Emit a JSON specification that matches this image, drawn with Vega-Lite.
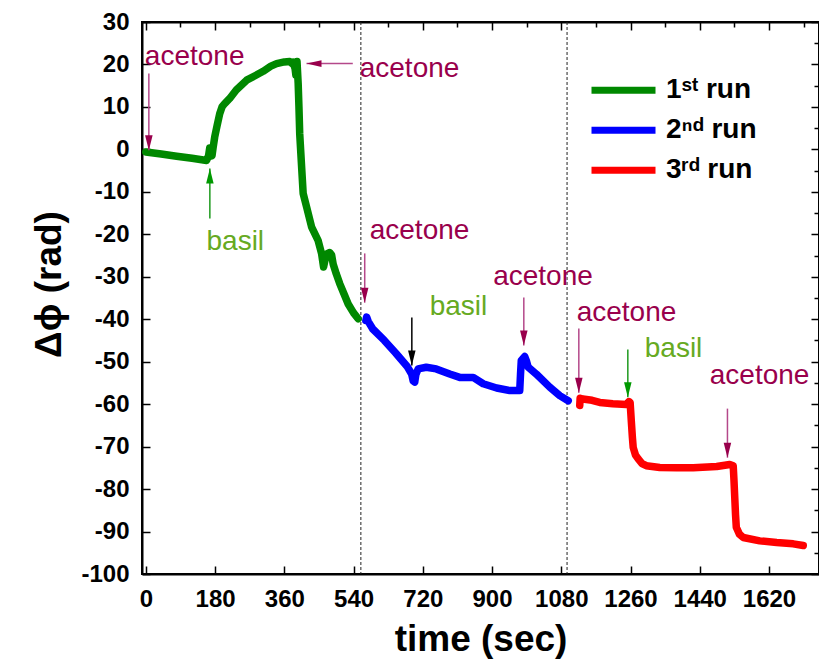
{
  "$schema": "https://vega.github.io/schema/vega-lite/v6.json",
  "width": 677,
  "height": 552,
  "autosize": {"type": "none"},
  "padding": {"left": 142, "top": 22, "right": 0, "bottom": 92},
  "background": "white",
  "config": {"view": {"stroke": "black", "strokeWidth": 2}},
  "datasets": {
    "curve": [
      {"run": "1st run", "t": 0, "v": -0.6},
      {"run": "1st run", "t": 40, "v": -1.1},
      {"run": "1st run", "t": 80, "v": -1.6},
      {"run": "1st run", "t": 120, "v": -2.1},
      {"run": "1st run", "t": 158, "v": -2.6},
      {"run": "1st run", "t": 163, "v": -1.5},
      {"run": "1st run", "t": 166, "v": 0.3},
      {"run": "1st run", "t": 169, "v": -0.8},
      {"run": "1st run", "t": 172, "v": -1.5},
      {"run": "1st run", "t": 175, "v": 0.5},
      {"run": "1st run", "t": 179, "v": 2.9},
      {"run": "1st run", "t": 185, "v": 5.5},
      {"run": "1st run", "t": 192, "v": 8.4},
      {"run": "1st run", "t": 198, "v": 10.0},
      {"run": "1st run", "t": 205, "v": 10.8},
      {"run": "1st run", "t": 218, "v": 12.0},
      {"run": "1st run", "t": 235, "v": 14.0},
      {"run": "1st run", "t": 262, "v": 16.3},
      {"run": "1st run", "t": 285, "v": 17.4},
      {"run": "1st run", "t": 305, "v": 18.4},
      {"run": "1st run", "t": 325, "v": 19.6},
      {"run": "1st run", "t": 340, "v": 20.2},
      {"run": "1st run", "t": 360, "v": 20.6},
      {"run": "1st run", "t": 374, "v": 20.7},
      {"run": "1st run", "t": 380, "v": 20.2},
      {"run": "1st run", "t": 383, "v": 20.5},
      {"run": "1st run", "t": 388, "v": 19.0},
      {"run": "1st run", "t": 390, "v": 17.5},
      {"run": "1st run", "t": 393, "v": 20.7},
      {"run": "1st run", "t": 396, "v": 15.5},
      {"run": "1st run", "t": 398, "v": 10.0},
      {"run": "1st run", "t": 400, "v": 3.7},
      {"run": "1st run", "t": 405, "v": -4.2},
      {"run": "1st run", "t": 409, "v": -10.4},
      {"run": "1st run", "t": 418, "v": -13.6},
      {"run": "1st run", "t": 431, "v": -18.3},
      {"run": "1st run", "t": 448, "v": -21.5},
      {"run": "1st run", "t": 457, "v": -24.6},
      {"run": "1st run", "t": 462, "v": -27.7},
      {"run": "1st run", "t": 466, "v": -26.0},
      {"run": "1st run", "t": 470, "v": -24.6},
      {"run": "1st run", "t": 478, "v": -24.3},
      {"run": "1st run", "t": 483, "v": -24.9},
      {"run": "1st run", "t": 487, "v": -27.0},
      {"run": "1st run", "t": 495, "v": -29.3},
      {"run": "1st run", "t": 504, "v": -31.6},
      {"run": "1st run", "t": 515, "v": -34.0},
      {"run": "1st run", "t": 526, "v": -36.4},
      {"run": "1st run", "t": 540, "v": -38.5},
      {"run": "1st run", "t": 552, "v": -39.9},
      {"run": "2nd run", "t": 572, "v": -40.3},
      {"run": "2nd run", "t": 574, "v": -39.5},
      {"run": "2nd run", "t": 578, "v": -40.5},
      {"run": "2nd run", "t": 590, "v": -42.3},
      {"run": "2nd run", "t": 620, "v": -45.0},
      {"run": "2nd run", "t": 650, "v": -48.0},
      {"run": "2nd run", "t": 680, "v": -51.2},
      {"run": "2nd run", "t": 691, "v": -52.9},
      {"run": "2nd run", "t": 695, "v": -54.5},
      {"run": "2nd run", "t": 699, "v": -54.8},
      {"run": "2nd run", "t": 702, "v": -53.0},
      {"run": "2nd run", "t": 708, "v": -51.7},
      {"run": "2nd run", "t": 729, "v": -51.3},
      {"run": "2nd run", "t": 755, "v": -51.7},
      {"run": "2nd run", "t": 790, "v": -52.9},
      {"run": "2nd run", "t": 816, "v": -53.7},
      {"run": "2nd run", "t": 851, "v": -53.7},
      {"run": "2nd run", "t": 877, "v": -55.2},
      {"run": "2nd run", "t": 912, "v": -56.2},
      {"run": "2nd run", "t": 946, "v": -56.8},
      {"run": "2nd run", "t": 972, "v": -56.8},
      {"run": "2nd run", "t": 974, "v": -53.0},
      {"run": "2nd run", "t": 976, "v": -49.7},
      {"run": "2nd run", "t": 985, "v": -48.8},
      {"run": "2nd run", "t": 990, "v": -50.0},
      {"run": "2nd run", "t": 994, "v": -51.3},
      {"run": "2nd run", "t": 1015, "v": -52.9},
      {"run": "2nd run", "t": 1050, "v": -56.0},
      {"run": "2nd run", "t": 1076, "v": -58.0},
      {"run": "2nd run", "t": 1098, "v": -59.2},
      {"run": "3rd run", "t": 1128, "v": -60.3},
      {"run": "3rd run", "t": 1129, "v": -58.6},
      {"run": "3rd run", "t": 1136, "v": -58.8},
      {"run": "3rd run", "t": 1160, "v": -59.1},
      {"run": "3rd run", "t": 1180, "v": -59.6},
      {"run": "3rd run", "t": 1214, "v": -59.9},
      {"run": "3rd run", "t": 1249, "v": -60.1},
      {"run": "3rd run", "t": 1256, "v": -59.4},
      {"run": "3rd run", "t": 1259, "v": -59.6},
      {"run": "3rd run", "t": 1262, "v": -63.9},
      {"run": "3rd run", "t": 1265, "v": -68.0},
      {"run": "3rd run", "t": 1267, "v": -70.2},
      {"run": "3rd run", "t": 1273, "v": -72.0},
      {"run": "3rd run", "t": 1280, "v": -72.9},
      {"run": "3rd run", "t": 1290, "v": -74.0},
      {"run": "3rd run", "t": 1301, "v": -74.5},
      {"run": "3rd run", "t": 1336, "v": -74.9},
      {"run": "3rd run", "t": 1380, "v": -75.0},
      {"run": "3rd run", "t": 1423, "v": -75.0},
      {"run": "3rd run", "t": 1484, "v": -74.7},
      {"run": "3rd run", "t": 1518, "v": -74.2},
      {"run": "3rd run", "t": 1527, "v": -74.5},
      {"run": "3rd run", "t": 1529, "v": -78.0},
      {"run": "3rd run", "t": 1531, "v": -82.0},
      {"run": "3rd run", "t": 1533, "v": -86.0},
      {"run": "3rd run", "t": 1535, "v": -89.0},
      {"run": "3rd run", "t": 1543, "v": -90.6},
      {"run": "3rd run", "t": 1553, "v": -91.4},
      {"run": "3rd run", "t": 1596, "v": -92.2},
      {"run": "3rd run", "t": 1640, "v": -92.6},
      {"run": "3rd run", "t": 1683, "v": -92.9},
      {"run": "3rd run", "t": 1709, "v": -93.3}
    ],
    "vlines": [{"t": 559}, {"t": 1095}],
    "arrows": [
      {"kind": "acetone", "dir": "down", "t1": 7.8, "v1": 17.9, "t2": 7.8, "v2": -0.2},
      {"kind": "basil", "dir": "up", "t1": 166.4, "v1": -16.3, "t2": 166.4, "v2": -4.5},
      {"kind": "acetone", "dir": "left", "t1": 538, "v1": 20.2, "t2": 417.7, "v2": 20.2},
      {"kind": "acetone", "dir": "down", "t1": 569, "v1": -24.5, "t2": 569, "v2": -36.1},
      {"kind": "other", "dir": "down", "t1": 691.5, "v1": -39.6, "t2": 691.5, "v2": -50.9},
      {"kind": "acetone", "dir": "down", "t1": 982.6, "v1": -34.9, "t2": 982.6, "v2": -46.2},
      {"kind": "acetone", "dir": "down", "t1": 1125.6, "v1": -42.2, "t2": 1125.6, "v2": -57.3},
      {"kind": "basil", "dir": "down", "t1": 1253, "v1": -47.1, "t2": 1253, "v2": -58.4},
      {"kind": "acetone", "dir": "down", "t1": 1512, "v1": -61.05, "t2": 1512, "v2": -72.6}
    ],
    "notes": [
      {"kind": "acetone", "label": "acetone", "t": -2.6, "v": 19.8},
      {"kind": "basil", "label": "basil", "t": 157.7, "v": -23.8},
      {"kind": "acetone", "label": "acetone", "t": 556, "v": 17.0},
      {"kind": "acetone", "label": "acetone", "t": 582, "v": -21.05},
      {"kind": "basil", "label": "basil", "t": 738, "v": -39.1},
      {"kind": "acetone", "label": "acetone", "t": 903, "v": -32.05},
      {"kind": "acetone", "label": "acetone", "t": 1120, "v": -40.3},
      {"kind": "basil", "label": "basil", "t": 1297, "v": -49.0},
      {"kind": "acetone", "label": "acetone", "t": 1466, "v": -55.2}
    ]
  },
  "resolve": {"axis": {"x": "independent", "y": "independent"}},
  "layer": [
    {
      "layer": [
        {
          "data": {"name": "vlines"},
          "mark": {"type": "rule", "strokeDash": [3, 2], "color": "#222222", "strokeWidth": 1},
          "encoding": {
            "x": {"field": "t", "type": "quantitative", "title": "time (sec)"}
          }
        },
        {
          "data": {"name": "curve"},
          "mark": {"type": "line", "strokeWidth": 7.5, "strokeCap": "round", "strokeJoin": "round"},
          "encoding": {
            "x": {
              "field": "t", "type": "quantitative", "title": "time (sec)",
              "scale": {"domain": [-10, 1750], "nice": false, "zero": false},
              "axis": {
                "orient": "bottom",
                "values": [0, 90, 180, 270, 360, 450, 540, 630, 720, 810, 900, 990, 1080, 1170, 1260, 1350, 1440, 1530, 1620, 1710],
                "labelExpr": "datum.value % 180 === 0 ? '' + datum.value : ''",
                "tickSize": {"condition": {"test": "datum.value % 180 === 0", "value": -8}, "value": -5},
                "tickWidth": 1.5, "tickColor": "black",
                "domainColor": "black", "domainWidth": 2,
                "grid": false,
                "labelFont": "Liberation Sans", "labelFontWeight": "bold", "labelFontSize": 24, "labelColor": "black",
                "labelPadding": 21, "labelFlush": false, "labelOverlap": false,
                "titleFont": "Liberation Sans", "titleFontWeight": "bold", "titleFontSize": 37, "titleColor": "black",
                "titlePadding": 10
              }
            },
            "y": {
              "field": "v", "type": "quantitative", "title": "Δϕ (rad)",
              "scale": {"domain": [-100, 30], "nice": false, "zero": false},
              "axis": {
                "orient": "left",
                "values": [-100, -95, -90, -85, -80, -75, -70, -65, -60, -55, -50, -45, -40, -35, -30, -25, -20, -15, -10, -5, 0, 5, 10, 15, 20, 25, 30],
                "labelExpr": "datum.value % 10 === 0 ? '' + datum.value : ''",
                "tickSize": {"condition": {"test": "datum.value % 10 === 0", "value": -8}, "value": -5},
                "tickWidth": 1.5, "tickColor": "black",
                "domainColor": "black", "domainWidth": 2,
                "grid": false,
                "labelFont": "Liberation Sans", "labelFontWeight": "bold", "labelFontSize": 24, "labelColor": "black",
                "labelPadding": 21, "labelFlush": false, "labelOverlap": false,
                "titleFont": "Liberation Sans", "titleFontWeight": "bold", "titleFontSize": 37, "titleColor": "black",
                "titlePadding": 12, "titleY": 262
              }
            },
            "color": {
              "field": "run", "type": "nominal",
              "scale": {"domain": ["1st run", "2nd run", "3rd run"], "range": ["#008800", "#0000ff", "#ff0000"]},
              "legend": {
                "orient": "none", "legendX": 446, "legendY": 48.5,
                "title": null, "padding": 0,
                "symbolType": "stroke", "symbolStrokeWidth": 7, "symbolSize": 4096,
                "labelFont": "Liberation Sans", "labelFontWeight": "bold", "labelFontSize": 28, "labelColor": "black",
                "labelOffset": 7, "rowPadding": 0, "clipHeight": 39.5,
                "labelExpr": "datum.label === '1st run' ? '1ˢᵗ run' : datum.label === '2nd run' ? '2ⁿᵈ run' : '3ʳᵈ run'"
              }
            }
          }
        },
        {
          "data": {"name": "arrows"},
          "mark": {"type": "rule", "strokeWidth": 1.5},
          "encoding": {
            "x": {"field": "t1", "type": "quantitative", "title": "time (sec)"},
            "x2": {"field": "t2"},
            "y": {"field": "v1", "type": "quantitative", "title": "Δϕ (rad)"},
            "y2": {"field": "v2"},
            "stroke": {"field": "kind", "type": "nominal", "legend": null,
              "scale": {"domain": ["acetone", "basil", "other"], "range": ["#b4488a", "#1f9a1f", "#000000"]}}
          }
        },
        {
          "data": {"name": "arrows"},
          "transform": [{"filter": "datum.dir === 'down'"}],
          "mark": {"type": "point", "filled": true, "opacity": 1, "size": 225, "shape": "M-0.5,-2L0.5,-2L0,0Z", "strokeWidth": 0},
          "encoding": {
            "x": {"field": "t2", "type": "quantitative", "title": "time (sec)"},
            "y": {"field": "v2", "type": "quantitative", "title": "Δϕ (rad)"},
            "fill": {"field": "kind", "type": "nominal", "legend": null,
              "scale": {"domain": ["acetone", "basil", "other"], "range": ["#99004c", "#009900", "#000000"]}}
          }
        },
        {
          "data": {"name": "arrows"},
          "transform": [{"filter": "datum.dir === 'up'"}],
          "mark": {"type": "point", "filled": true, "opacity": 1, "size": 225, "shape": "M-0.5,2L0.5,2L0,0Z", "strokeWidth": 0},
          "encoding": {
            "x": {"field": "t2", "type": "quantitative", "title": "time (sec)"},
            "y": {"field": "v2", "type": "quantitative", "title": "Δϕ (rad)"},
            "fill": {"field": "kind", "type": "nominal", "legend": null,
              "scale": {"domain": ["acetone", "basil", "other"], "range": ["#99004c", "#009900", "#000000"]}}
          }
        },
        {
          "data": {"name": "arrows"},
          "transform": [{"filter": "datum.dir === 'left'"}],
          "mark": {"type": "point", "filled": true, "opacity": 1, "size": 225, "shape": "M2,-0.45L2,0.45L0,0Z", "strokeWidth": 0},
          "encoding": {
            "x": {"field": "t2", "type": "quantitative", "title": "time (sec)"},
            "y": {"field": "v2", "type": "quantitative", "title": "Δϕ (rad)"},
            "fill": {"field": "kind", "type": "nominal", "legend": null,
              "scale": {"domain": ["acetone", "basil", "other"], "range": ["#99004c", "#009900", "#000000"]}}
          }
        },
        {
          "data": {"name": "notes"},
          "transform": [{"filter": "datum.kind === 'basil'"}],
          "mark": {"type": "text", "align": "left", "baseline": "alphabetic", "font": "Liberation Sans", "fontSize": 28, "color": "#66aa22"},
          "encoding": {
            "x": {"field": "t", "type": "quantitative", "title": "time (sec)"},
            "y": {"field": "v", "type": "quantitative", "title": "Δϕ (rad)"},
            "text": {"field": "label"}
          }
        }
      ]
    },
    {
      "data": {"name": "notes"},
      "transform": [{"filter": "datum.kind === 'acetone'"}],
      "mark": {"type": "text", "align": "left", "baseline": "alphabetic", "font": "Liberation Sans", "fontSize": 28, "color": "#99004c"},
      "encoding": {
        "x": {
          "field": "t", "type": "quantitative",
          "axis": {
            "orient": "top", "title": null, "labels": false,
            "values": [0, 90, 180, 270, 360, 450, 540, 630, 720, 810, 900, 990, 1080, 1170, 1260, 1350, 1440, 1530, 1620, 1710],
            "tickSize": {"condition": {"test": "datum.value % 180 === 0", "value": -8}, "value": -5},
            "tickWidth": 1.5, "tickColor": "black", "domainColor": "black", "domainWidth": 2, "grid": false
          }
        },
        "y": {
          "field": "v", "type": "quantitative",
          "axis": {
            "orient": "right", "title": null, "labels": false,
            "values": [-100, -95, -90, -85, -80, -75, -70, -65, -60, -55, -50, -45, -40, -35, -30, -25, -20, -15, -10, -5, 0, 5, 10, 15, 20, 25, 30],
            "tickSize": {"condition": {"test": "datum.value % 10 === 0", "value": -8}, "value": -5},
            "tickWidth": 1.5, "tickColor": "black", "domainColor": "black", "domainWidth": 2, "grid": false
          }
        },
        "text": {"field": "label"}
      }
    }
  ]
}
